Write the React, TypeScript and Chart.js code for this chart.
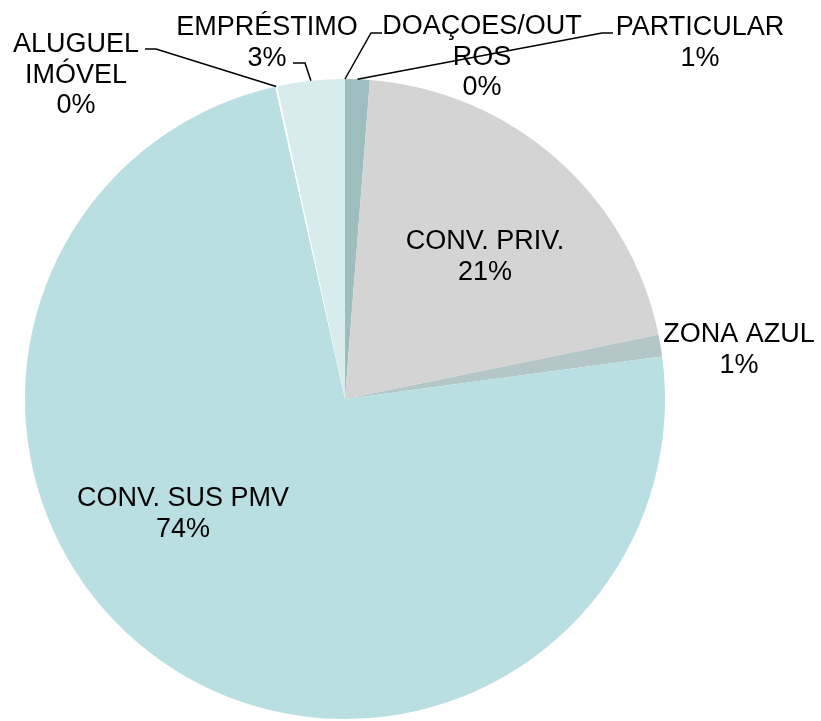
import React, { useEffect, useRef } from "react";
import { Chart, registerables } from "chart.js";
Chart.register(...registerables);

// ---- data ----
const categories = [
  "DOAÇOES/OUTROS",
  "PARTICULAR",
  "CONV. PRIV.",
  "ZONA AZUL",
  "CONV. SUS PMV",
  "ALUGUEL IMÓVEL",
  "EMPRÉSTIMO",
];
const values = [0, 1.24, 20.55, 1.1, 73.66, 0.1, 3.4];
const labelLines = [
  ["DOAÇOES/OUT", "ROS"],
  ["PARTICULAR"],
  ["CONV. PRIV."],
  ["ZONA AZUL"],
  ["CONV. SUS PMV"],
  ["ALUGUEL", "IMÓVEL"],
  ["EMPRÉSTIMO"],
];
const colors = ["#9dbdbf", "#9dbdbf", "#d4d4d4", "#b4c6c7", "#badfe2", "#ffffff", "#d8ecee"];

// ---- label layout (text centre x, first baseline y, optional leader elbow) ----
type Lay = { x: number; y: number; elbow?: [number, number]; tail?: number };
const labelLayout: Lay[] = [
  { x: 482, y: 34, elbow: [371, 33], tail: 382 },
  { x: 700, y: 35, elbow: [602, 33], tail: 613 },
  { x: 485, y: 249 },
  { x: 739, y: 342 },
  { x: 183, y: 506 },
  { x: 76, y: 52, elbow: [156, 49], tail: 145 },
  { x: 267, y: 35, elbow: [305, 63], tail: 293 },
];
const LINE_H = 30.5;
const FONT = '27px "Liberation Sans", Arial, sans-serif';

const labelPlugin = {
  id: "pieLabels",
  afterDraw(chart: any) {
    const ctx = chart.ctx;
    const meta = chart.getDatasetMeta(0);
    const total = values.reduce((a, b) => a + b, 0);
    ctx.save();
    ctx.font = FONT;
    ctx.fillStyle = "#000";
    ctx.textAlign = "center";
    ctx.textBaseline = "alphabetic";
    ctx.strokeStyle = "#000";
    ctx.lineWidth = 1.5;
    meta.data.forEach((arc: any, i: number) => {
      const lay = labelLayout[i];
      const pct = Math.round((values[i] / total) * 100) + "%";
      const lines = [...labelLines[i], pct];
      lines.forEach((t, k) => ctx.fillText(t, lay.x, lay.y + k * LINE_H));
      if (lay.elbow) {
        const p = arc.getProps(["x", "y", "startAngle", "endAngle", "outerRadius"], true);
        const mid = (p.startAngle + p.endAngle) / 2;
        const ex = p.x + Math.cos(mid) * p.outerRadius;
        const ey = p.y + Math.sin(mid) * p.outerRadius;
        ctx.beginPath();
        ctx.moveTo(lay.tail!, lay.elbow[1]);
        ctx.lineTo(lay.elbow[0], lay.elbow[1]);
        ctx.lineTo(ex, ey);
        ctx.stroke();
      }
    });
    ctx.restore();
  },
};

export default function App() {
  const ref = useRef<HTMLCanvasElement | null>(null);
  useEffect(() => {
    if (!ref.current) return;
    const chart = new Chart(ref.current, {
      type: "pie",
      data: {
        labels: categories,
        datasets: [
          {
            data: values,
            backgroundColor: colors,
            borderWidth: 0,
          },
        ],
      },
      options: {
        responsive: false,
        animation: false,
        layout: { padding: { left: 25, right: 156, top: 79, bottom: 2 } },
        plugins: { legend: { display: false }, tooltip: { enabled: false } },
      },
      plugins: [labelPlugin],
    });
    return () => chart.destroy();
  }, []);
  return (
    <div style={{ position: "fixed", left: 0, top: 0, width: 821, height: 721, background: "#fff" }}>
      <canvas ref={ref} width={821} height={721} style={{ width: 821, height: 721 }} />
    </div>
  );
}
